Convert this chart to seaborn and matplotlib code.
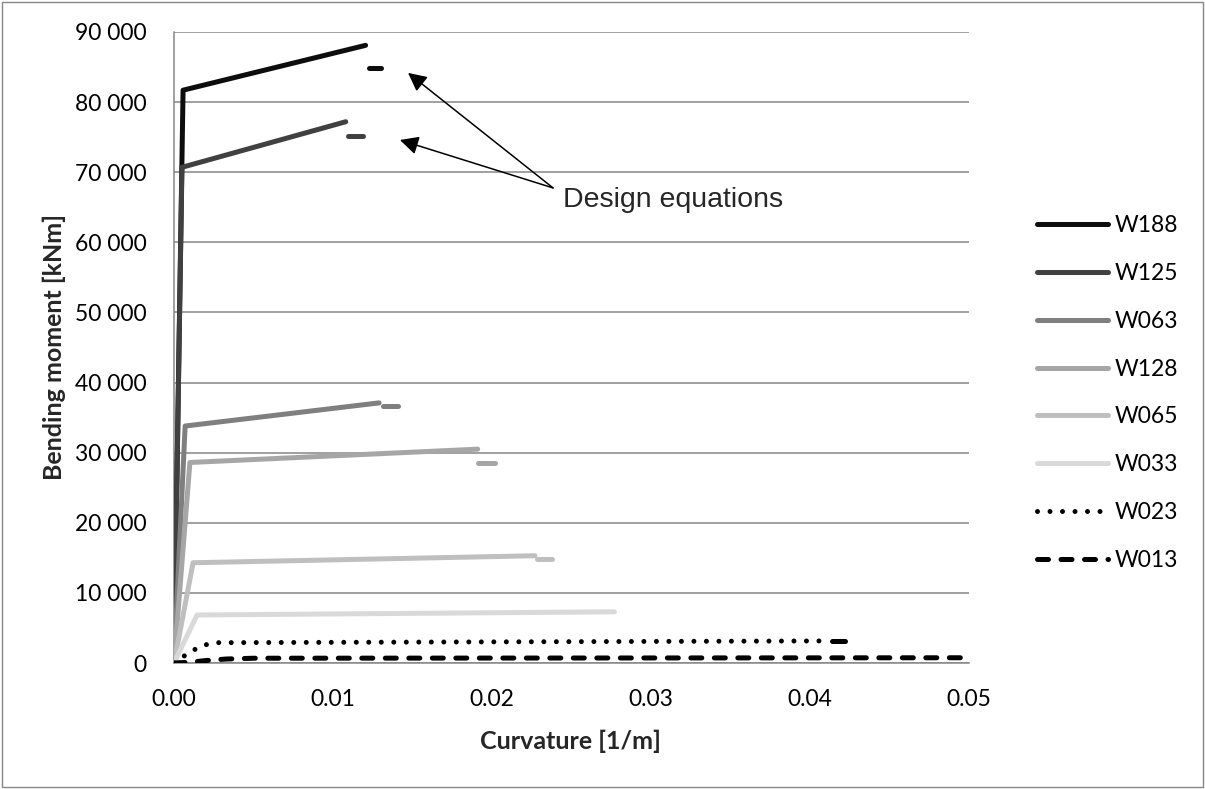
import matplotlib
matplotlib.use("Agg")
import matplotlib.pyplot as plt
import matplotlib.patches as mpatches
from matplotlib.ticker import FuncFormatter
import seaborn as sns
import pandas as pd

# ---------------- data ----------------
series_names = ["W188", "W125", "W063", "W128", "W065", "W033", "W023", "W013"]

curv_W188 = [0.0, 0.00057, 0.01205]
mom_W188 = [0, 81700, 88100]
curv_W125 = [0.0, 0.0005, 0.01080]
mom_W125 = [0, 70700, 77200]
curv_W063 = [0.0, 0.0007, 0.01290]
mom_W063 = [0, 33800, 37100]
curv_W128 = [0.0, 0.0010, 0.01910]
mom_W128 = [0, 28600, 30500]
curv_W065 = [0.0, 0.0012, 0.02270]
mom_W065 = [0, 14300, 15300]
curv_W033 = [0.0, 0.00145, 0.02770]
mom_W033 = [0, 6850, 7300]
curv_W023 = [0.0, 0.0005, 0.0012, 0.0018, 0.0026, 0.0412]
mom_W023 = [0, 800, 1800, 2500, 2900, 3150]
curv_W013 = [0.0, 0.0010, 0.0020, 0.0033, 0.0050, 0.0500]
mom_W013 = [0, 100, 350, 570, 680, 750]

# design-equation results (short horizontal segments)
design_names = ["W188", "W125", "W063", "W128", "W065", "W023"]
design_curv_start = [0.01225, 0.01092, 0.01312, 0.01915, 0.02280, 0.04140]
design_curv_end = [0.01305, 0.01186, 0.01406, 0.02016, 0.02380, 0.04220]
design_moment = [84900, 75150, 36700, 28550, 14900, 3200]

x_ticks = [0.00, 0.01, 0.02, 0.03, 0.04, 0.05]
y_ticks = [0, 10000, 20000, 30000, 40000, 50000, 60000, 70000, 80000, 90000]

annot_text = "Design equations"

# ---------------- style ----------------
sns.set_theme(style="white")
plt.rcParams["font.family"] = ["Lato", "DejaVu Sans"]

colors = {
    "W188": "#0d0d0d", "W125": "#404040", "W063": "#7f7f7f", "W128": "#a6a6a6",
    "W065": "#bfbfbf", "W033": "#d9d9d9", "W023": "#000000", "W013": "#000000",
}
styles = {
    "W188": "-", "W125": "-", "W063": "-", "W128": "-", "W065": "-", "W033": "-",
    "W023": (0, (0.001, 2.5)),
    "W013": (0, (2.2, 2.5)),
}
LW = 3.6

data = {
    "W188": (curv_W188, mom_W188), "W125": (curv_W125, mom_W125),
    "W063": (curv_W063, mom_W063), "W128": (curv_W128, mom_W128),
    "W065": (curv_W065, mom_W065), "W033": (curv_W033, mom_W033),
    "W023": (curv_W023, mom_W023), "W013": (curv_W013, mom_W013),
}

W, H = 1205, 789
fig = plt.figure(figsize=(W / 100, H / 100), dpi=100)
ax = fig.add_axes([174 / W, 1 - 663 / H, (969 - 174) / W, (663 - 32) / H])

for name in series_names:
    xs, ys = data[name]
    df = pd.DataFrame({"curv": xs, "mom": ys})
    sns.lineplot(data=df, x="curv", y="mom", ax=ax, color=colors[name],
                 linestyle=styles[name], lw=LW, sort=False, estimator=None,
                 label=name, solid_capstyle="round", dash_capstyle="round",
                 solid_joinstyle="round", zorder=3)

for name, x0, x1, m in zip(design_names, design_curv_start, design_curv_end, design_moment):
    df = pd.DataFrame({"curv": [x0, x1], "mom": [m, m]})
    sns.lineplot(data=df, x="curv", y="mom", ax=ax, color=colors[name], lw=LW,
                 sort=False, estimator=None, legend=False,
                 solid_capstyle="round", zorder=3)

ax.set_xlim(0, 0.05)
ax.set_ylim(0, 90000)
ax.set_xticks(x_ticks)
ax.set_yticks(y_ticks)
ax.xaxis.set_major_formatter(FuncFormatter(lambda v, p: f"{v:.2f}"))
ax.yaxis.set_major_formatter(FuncFormatter(lambda v, p: f"{v:,.0f}".replace(",", " ")))
ax.tick_params(axis="both", length=0, labelsize=16.5, colors="black")
ax.tick_params(axis="y", pad=19.5)
ax.tick_params(axis="x", pad=19)
ax.yaxis.grid(True, color="#868686", lw=1.1, zorder=0)
ax.xaxis.grid(False)
ax.set_axisbelow(True)
for s in ["top", "right"]:
    ax.spines[s].set_visible(False)
for s in ["left", "bottom"]:
    ax.spines[s].set_color("#868686")
    ax.spines[s].set_linewidth(1.1)
ax.set_xlabel("")
ax.set_ylabel("")

fig.text(54 / W, 1 - 347 / H, "Bending moment [kNm]", rotation=90, ha="center",
         va="center", fontsize=18, fontweight="bold")
fig.text(571 / W, 1 - 741 / H, "Curvature [1/m]", ha="center", va="center",
         fontsize=18, fontweight="bold")

# annotation
tail = (0.02384, 67760)
for tip in [(0.01472, 84165), (0.01421, 74600)]:
    ax.annotate("", xy=tip, xytext=tail,
                arrowprops=dict(arrowstyle="-|>", color="black", lw=1.1,
                                mutation_scale=28, shrinkA=0, shrinkB=0))
ax.text(0.02447, 66000, annot_text, fontsize=20.5, va="center", ha="left",
        family=["Liberation Sans", "DejaVu Sans"])

handles, labels = ax.get_legend_handles_labels()
leg = ax.legend(handles, labels, loc="center left",
                bbox_to_anchor=(1037 / W, 1 - 393 / H), bbox_transform=fig.transFigure,
                frameon=False, fontsize=16.5, handlelength=3.1, handletextpad=0.3,
                labelspacing=1.17, borderpad=0, borderaxespad=0)
for t in leg.get_texts():
    t.set_color("black")

fig.patches.append(mpatches.Rectangle((2 / W, 2 / H), 1 - 4 / W, 1 - 4 / H,
                                      transform=fig.transFigure, fill=False,
                                      edgecolor="#868686", lw=1.0))

fig.savefig("out.png", dpi=100)
